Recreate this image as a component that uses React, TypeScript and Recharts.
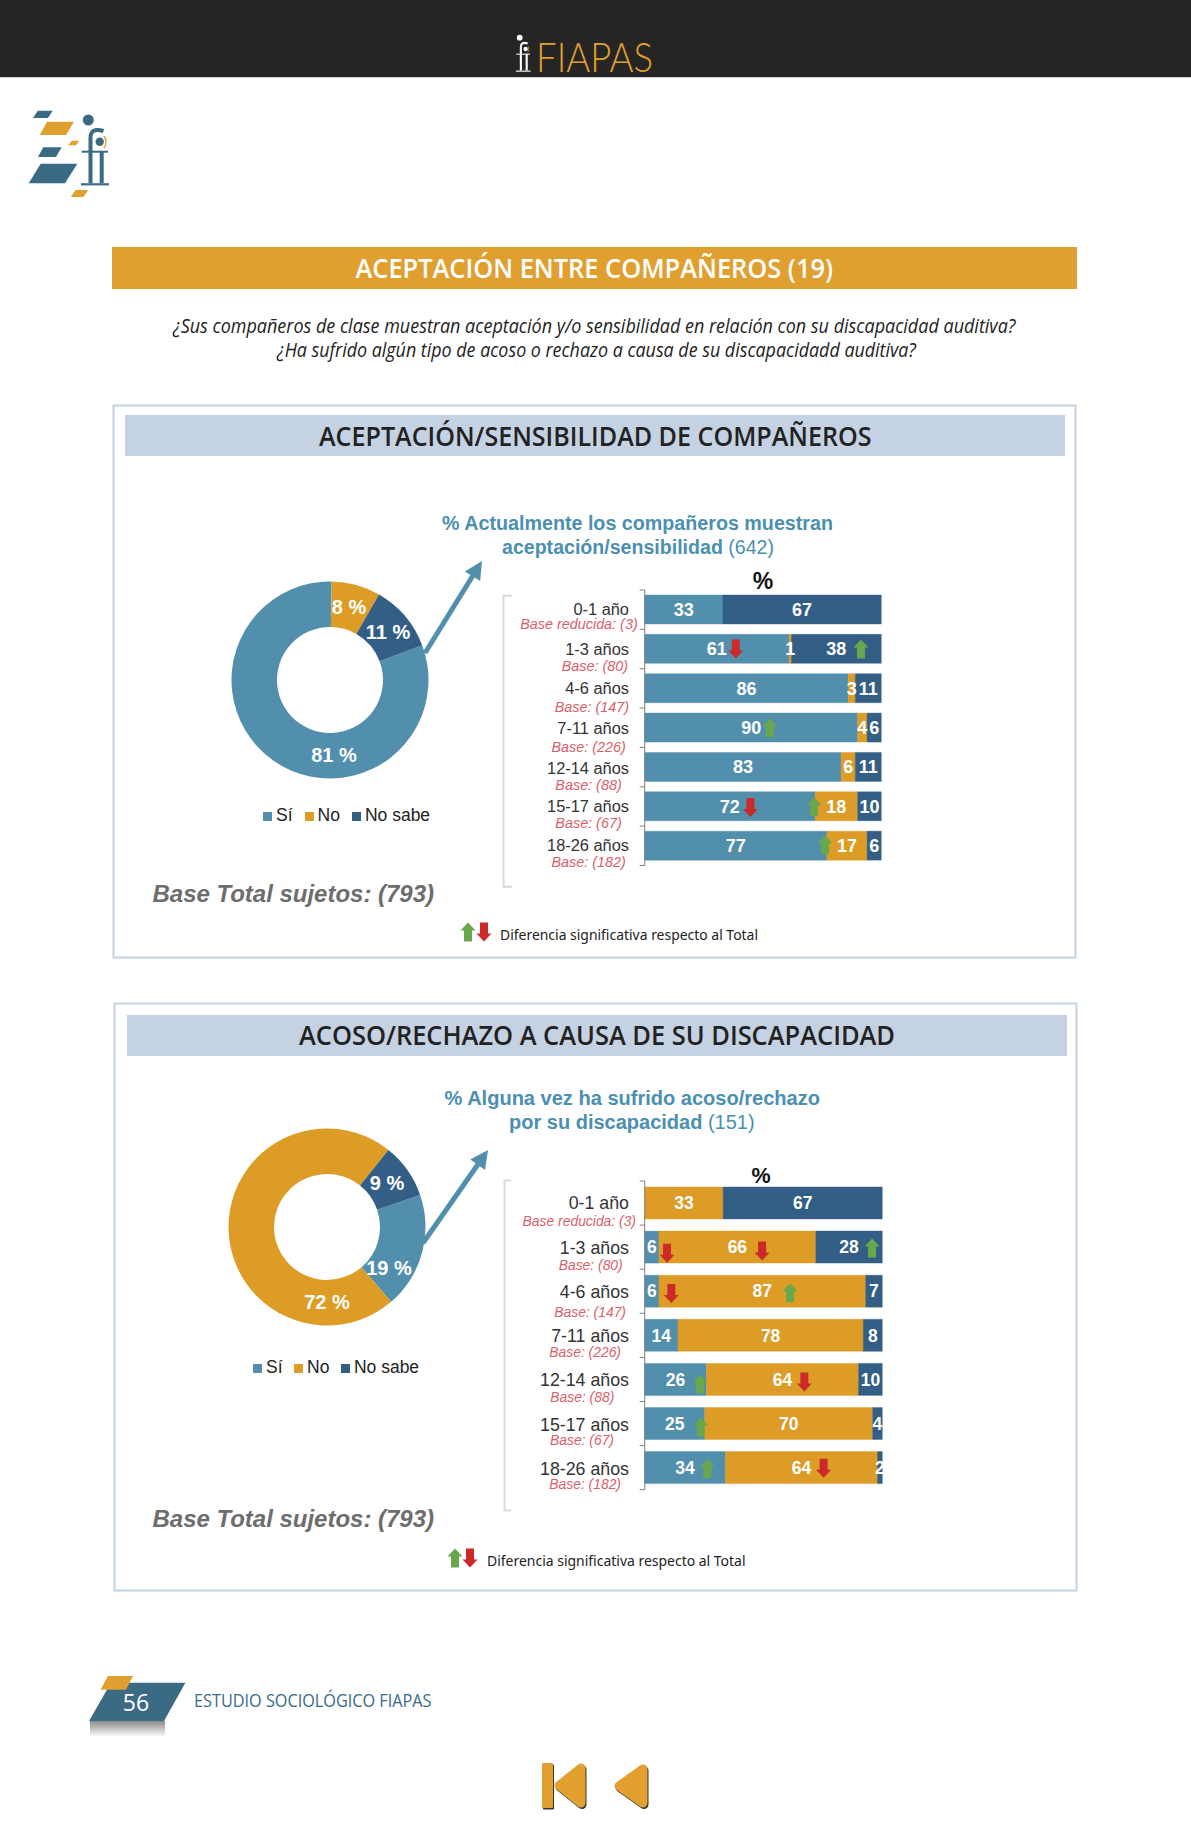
import React from 'react';
import {
  BarChart,
  Bar,
  XAxis,
  YAxis,
  LabelList,
  ReferenceDot,
  PieChart,
  Pie,
  Cell,
  Legend,
} from 'recharts';

const ARIAL = '"Liberation Sans", Arial, sans-serif';
const OPEN = '"Open Sans", sans-serif';
const BLUE = '#518fad';
const GOLD = '#dc9c25';
const NAVY = '#335f86';
const BAND = '#e0a030';
const PALE = '#c5d2e3';
const TITLE_BLUE = '#4b90b0';
const RED = '#cc2a29';
const GREEN = '#69a74e';
const LOGO_BLUE = '#3b6a85';

const answers = ['Sí', 'No', 'No sabe'];
const ageGroups = ['0-1 año', '1-3 años', '4-6 años', '7-11 años', '12-14 años', '15-17 años', '18-26 años'];
const basesList = ['Base reducida: (3)', 'Base: (80)', 'Base: (147)', 'Base: (226)', 'Base: (88)', 'Base: (67)', 'Base: (182)'];

const donutTop = [81, 8, 11];
const siTop = [33, 61, 86, 90, 83, 72, 77];
const noTop = [0, 1, 3, 4, 6, 18, 17];
const nsTop = [67, 38, 11, 6, 11, 10, 6];
// [row, position along the bar in %, direction]
const sigTop: [number, number, string][] = [
  [1, 38.5, 'down'],
  [1, 91.4, 'up'],
  [3, 52.9, 'up'],
  [5, 44.7, 'down'],
  [5, 71.6, 'up'],
  [6, 76.2, 'up'],
];

const donutBottom = [19, 72, 9];
const siBottom = [0, 6, 6, 14, 26, 25, 34];
const noBottom = [33, 66, 87, 78, 64, 70, 64];
const nsBottom = [67, 28, 7, 8, 10, 4, 2];
const sigBottom: [number, number, string][] = [
  [1, 9.4, 'down'],
  [1, 49.4, 'down'],
  [1, 95.7, 'up'],
  [2, 11.2, 'down'],
  [2, 61.2, 'up'],
  [4, 23.3, 'up'],
  [4, 67.2, 'down'],
  [5, 23.6, 'up'],
  [6, 26.4, 'up'],
  [6, 75.3, 'down'],
];

// hand placement of the small texts and arrows, they are not regular in the original
const layoutTop = {
  baseRight: [637.7, 628, 629, 625.7, 621.7, 621.7, 625.7],
  baseDy: [14.5, 17, 18.7, 19, 18, 17, 16],
  catDy: [-0.5, 0, 0, 0, 0.5, 0, -0.5],
  arrowDy: [0, 0, 0, 1, 0, -1],
};
const layoutBottom = {
  baseRight: [636, 622.7, 626, 621, 614.3, 614, 621],
  baseDy: [18.4, 17.7, 20.5, 17, 17.7, 16.5, 16.5],
  catDy: [-0.5, 0.5, 0.8, 0.8, 0.8, 1, 1],
  arrowDy: [6.2, 3.8, 0.8, 2.2, 1.5, 4.5, 2.5, 3.5, 0.8, 0.5],
};

function arrowPath(cx: number, cy: number, dir: string, w = 15, h = 19) {
  const s = dir === 'up' ? -1 : 1;
  const tip = cy + (s * h) / 2;
  const neck = tip - s * 8;
  const tail = cy - (s * h) / 2;
  return `M${cx},${tip} L${cx + w / 2},${neck} L${cx + 4},${neck} L${cx + 4},${tail} L${cx - 4},${tail} L${cx - 4},${neck} L${cx - w / 2},${neck} Z`;
}

function bigArrow(x1: number, y1: number, x2: number, y2: number) {
  const len = Math.hypot(x2 - x1, y2 - y1);
  const ux = (x2 - x1) / len;
  const uy = (y2 - y1) / len;
  const px = -uy;
  const py = ux;
  const nx = x2 - ux * 18;
  const ny = y2 - uy * 18;
  const pts = [
    [x1 + px * 2.5, y1 + py * 2.5],
    [nx + px * 2.5, ny + py * 2.5],
    [nx + px * 9, ny + py * 9],
    [x2, y2],
    [nx - px * 9, ny - py * 9],
    [nx - px * 2.5, ny - py * 2.5],
    [x1 - px * 2.5, y1 - py * 2.5],
  ];
  return pts.map((p) => p.join(',')).join(' ');
}

function T({ x, y, size, fill = '#222', family = ARIAL, weight = 400, italic = false, anchor = 'start', len, children }: any) {
  return (
    <text
      x={x}
      y={y}
      fontSize={size}
      fill={fill}
      fontFamily={family}
      fontWeight={weight}
      fontStyle={italic ? 'italic' : 'normal'}
      textAnchor={anchor}
      dominantBaseline="central"
      textLength={len}
      lengthAdjust={len ? 'spacingAndGlyphs' : undefined}
    >
      {children}
    </text>
  );
}

function Logo({ x, y, k, color, hook }: any) {
  return (
    <g transform={`translate(${x},${y}) scale(${k})`} fill="none" stroke={color}>
      <circle cx={88.3} cy={120} r={5.5} fill={color} stroke="none" />
      <circle cx={99.7} cy={141.7} r={4.2} fill={color} stroke="none" />
      <path d="M90.5,183 L90.5,138 Q90.5,127 103.5,131" strokeWidth={4} />
      <path d="M101.7,151 L101.7,183" strokeWidth={4} />
      <path d="M81.7,151.7 L108,151.7" strokeWidth={2} />
      <path d="M81,184.3 L109,184.3" strokeWidth={2.2} />
      <path d="M104,136 Q108,142 104,148" stroke={hook} strokeWidth={1.4} />
    </g>
  );
}

function Backdrop() {
  return (
    <svg width={1191} height={1840} style={{ position: 'absolute', left: 0, top: 0 }}>
      <defs>
        <linearGradient id="foot" x1="0" y1="0" x2="0" y2="1">
          <stop offset="0" stopColor="#8a8a8a" />
          <stop offset="1" stopColor="#ffffff" />
        </linearGradient>
      </defs>

      <rect x={0} y={0} width={1191} height={77} fill="#252524" />
      <rect x={0} y={77} width={1191} height={1} fill="#cfcfcb" />
      <Logo x={473.8} y={-24.7} k={0.52} color="#fff" hook={BAND} />
      <T x={536} y={56} size={42} fill={BAND} family="Lato, sans-serif" weight={300} len={117}>FIAPAS</T>

      <g fill={LOGO_BLUE}>
        <polygon points="37.7,110.7 52.7,110.7 48,118 33,118" />
        <polygon points="43.3,147.3 61.7,147.3 56,157 38,157" />
        <polygon points="40.7,163.7 77.3,163.7 65,183.3 28.7,183.3" />
      </g>
      <g fill={BAND}>
        <polygon points="47,121.7 74,121.7 66,135 39.7,135" />
        <polygon points="71.7,140.7 79.3,140.7 76,145.3 68.3,145.3" />
        <polygon points="75.7,190 88.3,190 83.3,197 70.7,197" />
      </g>
      <Logo x={0} y={0} k={1} color={LOGO_BLUE} hook={BAND} />

      <rect x={112} y={247} width={965} height={42} fill={BAND} />
      <T x={355.5} y={267} size={27} fill="#fff" family={OPEN} weight={600} len={477.5}>ACEPTACIÓN ENTRE COMPAÑEROS (19)</T>
      <T x={173} y={325} size={20} italic family={OPEN} len={842.5}>¿Sus compañeros de clase muestran aceptación y/o sensibilidad en relación con su discapacidad auditiva?</T>
      <T x={277} y={349} size={20} italic family={OPEN} len={639}>¿Ha sufrido algún tipo de acoso o rechazo a causa de su discapacidadd auditiva?</T>

      <rect x={113.5} y={405.5} width={962} height={552} fill="none" stroke={PALE} strokeWidth={2} />
      <rect x={125} y={415} width={940} height={41} fill={PALE} />
      <T x={319} y={435} size={27} family={OPEN} weight={600} len={552.5}>ACEPTACIÓN/SENSIBILIDAD DE COMPAÑEROS</T>
      <T x={442} y={523} size={20} weight={700} fill={TITLE_BLUE} len={391}>% Actualmente los compañeros muestran</T>
      <text x={502} y={547} fontSize={20} fontFamily={ARIAL} fill={TITLE_BLUE} dominantBaseline="central" textLength={272} lengthAdjust="spacingAndGlyphs">
        <tspan fontWeight={700}>aceptación/sensibilidad</tspan> (642)
      </text>
      <polygon points={bigArrow(425, 653, 482, 561)} fill={BLUE} />
      <T x={763} y={581} size={23} weight={700} anchor="middle" fill="#111">%</T>
      <path d="M512,595.7 L503.5,595.7 L503.5,886.7 L512,886.7" fill="none" stroke="#d9d9d9" strokeWidth={2} />
      <T x={152.5} y={893.5} size={24} weight={700} italic fill="#6d6d6d" len={281.5}>Base Total sujetos: (793)</T>
      <path d={arrowPath(468, 932, 'up')} fill={GREEN} />
      <path d={arrowPath(484, 932, 'down')} fill={RED} />
      <T x={500} y={934.5} size={14} family={'"Noto Sans", sans-serif'} len={258}>Diferencia significativa respecto al Total</T>

      <rect x={114.5} y={1003.5} width={962} height={587} fill="none" stroke={PALE} strokeWidth={2} />
      <rect x={127} y={1015} width={940} height={41} fill={PALE} />
      <T x={299} y={1034} size={27} family={OPEN} weight={600} len={596}>ACOSO/RECHAZO A CAUSA DE SU DISCAPACIDAD</T>
      <T x={444.5} y={1098} size={20} weight={700} fill={TITLE_BLUE} len={375.5}>% Alguna vez ha sufrido acoso/rechazo</T>
      <text x={509} y={1122} fontSize={20} fontFamily={ARIAL} fill={TITLE_BLUE} dominantBaseline="central">
        <tspan fontWeight={700}>por su discapacidad</tspan> (151)
      </text>
      <polygon points={bigArrow(423, 1243, 488, 1150)} fill={BLUE} />
      <T x={761} y={1176} size={21.5} weight={700} anchor="middle" fill="#111">%</T>
      <path d="M511,1180.5 L504.5,1180.5 L504.5,1510.5 L511,1510.5" fill="none" stroke="#d9d9d9" strokeWidth={2} />
      <T x={152.5} y={1518.5} size={24} weight={700} italic fill="#6d6d6d" len={281.5}>Base Total sujetos: (793)</T>
      <path d={arrowPath(455, 1558, 'up')} fill={GREEN} />
      <path d={arrowPath(470, 1558, 'down')} fill={RED} />
      <T x={487} y={1560.5} size={14} family={'"Noto Sans", sans-serif'} len={258.5}>Diferencia significativa respecto al Total</T>

      <rect x={90} y={1721} width={75} height={16} fill="url(#foot)" />
      <polygon points="111,1682.7 185.4,1682.7 164,1721 89,1721" fill={LOGO_BLUE} />
      <polygon points="107.8,1676 133,1676 126,1689.7 100.6,1689.7" fill={BAND} />
      <T x={136} y={1702} size={23} fill="#fff" family={OPEN} anchor="middle">56</T>
      <T x={194} y={1699.7} size={19} fill={LOGO_BLUE} family={OPEN} len={237.5}>ESTUDIO SOCIOLÓGICO FIAPAS</T>

      <g transform="translate(1,1.5)" fill="#333" stroke="#333" strokeLinejoin="round">
        <path d="M543,1764 L552,1764 L552,1807 L543,1807 Z" strokeWidth={2} />
        <path d="M559,1785.5 L581,1768 L581,1803 Z" strokeWidth={9} />
        <path d="M619,1786 L643,1769 L643,1803 Z" strokeWidth={9} />
      </g>
      <g fill="#e2a030" stroke="#e2a030" strokeLinejoin="round">
        <path d="M543,1764 L552,1764 L552,1807 L543,1807 Z" strokeWidth={2} />
        <path d="M559,1785.5 L581,1768 L581,1803 Z" strokeWidth={9} />
        <path d="M619,1786 L643,1769 L643,1803 Z" strokeWidth={9} />
      </g>
    </svg>
  );
}

function Donut({ values, left, top, cx, cy, startAngle, labelAt, legendLeft, legendTop, gap }: any) {
  const data = answers.map((name, i) => ({ name, value: values[i] }));
  const colors = [BLUE, GOLD, NAVY];
  const renderLabel = (p: any) => {
    const at = labelAt[p.index];
    return (
      <text
        x={p.cx + at[0]}
        y={p.cy + at[1]}
        fill="#fff"
        fontSize={20}
        fontWeight={700}
        fontFamily={ARIAL}
        textAnchor="middle"
        dominantBaseline="central"
      >
        {values[p.index]} %
      </text>
    );
  };
  return (
    <div style={{ position: 'absolute', left, top }}>
      <PieChart width={280} height={300} margin={{ top: 0, right: 0, bottom: 0, left: 0 }}>
        <Pie
          data={data}
          dataKey="value"
          nameKey="name"
          cx={cx}
          cy={cy}
          innerRadius={53}
          outerRadius={98.5}
          startAngle={startAngle}
          endAngle={startAngle - 360}
          stroke="none"
          label={renderLabel}
          labelLine={false}
          isAnimationActive={false}
        >
          {data.map((d, i) => (
            <Cell key={d.name} fill={colors[i]} />
          ))}
        </Pie>
        <Legend
          verticalAlign="bottom"
          align="left"
          iconType="square"
          iconSize={9}
          itemSorter={null}
          formatter={(v: string) => <span style={{ color: '#222', marginRight: gap }}>{v}</span>}
          wrapperStyle={{ left: legendLeft, top: legendTop, bottom: 'auto', width: 'auto', fontSize: 17.5, fontFamily: ARIAL, lineHeight: '22px' }}
        />
      </PieChart>
    </div>
  );
}

function Stacked({ si, no, ns, sig, place, left, plotLeft, plotRight, plotTop, plotBottom, barSize, labelSize, catSize, baseSize }: any) {
  const rows = ageGroups.map((name, i) => ({ name, si: si[i], no: no[i], ns: ns[i] }));
  const pad = 4;
  const yW = plotLeft - left;
  const step = (plotBottom - plotTop) / rows.length;
  const hideZero = (v: number) => (v === 0 ? '' : v);
  const labelStyle = { fill: '#fff', fontSize: labelSize, fontWeight: 700, fontFamily: ARIAL };

  const renderTick = (p: any) => {
    const i = p.index;
    return (
      <g>
        {i === 0 && <line x1={yW - 5} x2={yW} y1={p.y - step / 2} y2={p.y - step / 2} stroke="#7f7f7f" />}
        <line x1={yW - 5} x2={yW} y1={p.y + step / 2} y2={p.y + step / 2} stroke="#7f7f7f" />
        <text x={629 - left} y={p.y + place.catDy[i]} textAnchor="end" dominantBaseline="central" fontSize={catSize} fontFamily={ARIAL} fill="#333">
          {p.payload.value}
        </text>
        <text x={place.baseRight[i] - left} y={p.y + place.baseDy[i]} textAnchor="end" dominantBaseline="central" fontSize={baseSize} fontStyle="italic" fontFamily={ARIAL} fill="#d9606a">
          {basesList[i]}
        </text>
      </g>
    );
  };

  return (
    <div style={{ position: 'absolute', left, top: plotTop - pad }}>
      <BarChart
        width={plotRight - left + 10}
        height={plotBottom - plotTop + pad * 2}
        data={rows}
        layout="vertical"
        stackOffset="expand"
        margin={{ top: pad, right: 10, bottom: pad, left: 0 }}
      >
        <XAxis type="number" domain={[0, 1]} hide />
        <YAxis type="category" dataKey="name" width={yW} interval={0} axisLine={{ stroke: '#7f7f7f' }} tickLine={false} tick={renderTick} />
        <Bar dataKey="si" stackId="a" fill={BLUE} stroke={BLUE} strokeWidth={0.4} barSize={barSize} isAnimationActive={false}>
          <LabelList dataKey="si" position="center" formatter={hideZero} {...labelStyle} />
        </Bar>
        <Bar dataKey="no" stackId="a" fill={GOLD} stroke={GOLD} strokeWidth={0.4} barSize={barSize} isAnimationActive={false}>
          <LabelList dataKey="no" position="center" formatter={hideZero} {...labelStyle} />
        </Bar>
        <Bar dataKey="ns" stackId="a" fill={NAVY} stroke={NAVY} strokeWidth={0.4} barSize={barSize} isAnimationActive={false}>
          <LabelList dataKey="ns" position="center" formatter={hideZero} {...labelStyle} />
        </Bar>
        {sig.map((s: [number, number, string], i: number) => (
          <ReferenceDot
            key={i}
            x={s[1] / 100}
            y={ageGroups[s[0]]}
            r={1}
            shape={(d: any) => <path d={arrowPath(d.cx, d.cy + place.arrowDy[i], s[2])} fill={s[2] === 'up' ? GREEN : RED} />}
          />
        ))}
      </BarChart>
    </div>
  );
}

export default function App() {
  return (
    <div style={{ position: 'absolute', left: 0, top: 0, width: 1191, height: 1840, background: '#fff', overflow: 'hidden' }}>
      <Backdrop />
      <Donut
        values={donutTop}
        left={200}
        top={560}
        cx={130}
        cy={120}
        startAngle={20.6}
        labelAt={[[4, 75], [19, -73], [58, -48]]}
        legendLeft={63}
        legendTop={244}
        gap={2}
      />
      <Stacked
        si={siTop}
        no={noTop}
        ns={nsTop}
        sig={sigTop}
        place={layoutTop}
        left={510}
        plotLeft={644.7}
        plotRight={881.3}
        plotTop={590}
        plotBottom={865.5}
        barSize={29}
        labelSize={18}
        catSize={16.4}
        baseSize={14.4}
      />
      <Donut
        values={donutBottom}
        left={197}
        top={1107}
        cx={130}
        cy={120}
        startAngle={19}
        labelAt={[[62, 41], [0, 75], [60, -44]]}
        legendLeft={56}
        legendTop={249}
        gap={1.5}
      />
      <Stacked
        si={siBottom}
        no={noBottom}
        ns={nsBottom}
        sig={sigBottom}
        place={layoutBottom}
        left={510}
        plotLeft={644.7}
        plotRight={882.3}
        plotTop={1180.8}
        plotBottom={1489.5}
        barSize={32}
        labelSize={17.5}
        catSize={17.8}
        baseSize={13.9}
      />
    </div>
  );
}
